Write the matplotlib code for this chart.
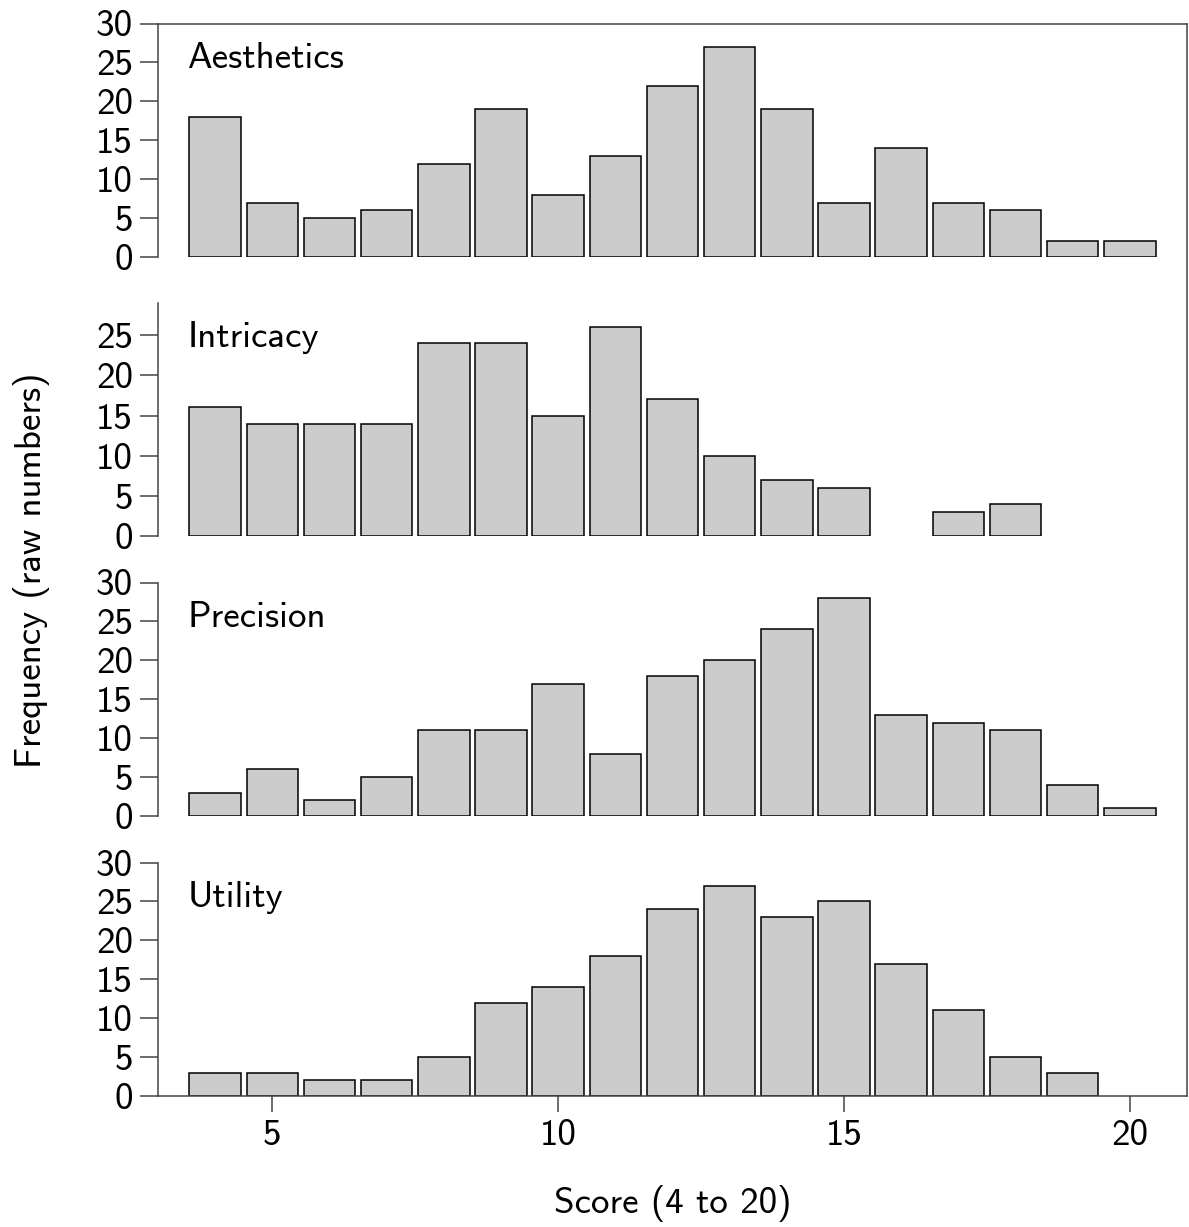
import matplotlib
matplotlib.use("Agg")
import matplotlib.pyplot as plt
from matplotlib.lines import Line2D
import numpy as np

scores = list(range(4, 21))
aesthetics = [18, 7, 5, 6, 12, 19, 8, 13, 22, 27, 19, 7, 14, 7, 6, 2, 2]
intricacy = [16, 14, 14, 14, 24, 24, 15, 26, 17, 10, 7, 6, 0, 3, 4, 0, 0]
precision = [3, 6, 2, 5, 11, 11, 17, 8, 18, 20, 24, 28, 13, 12, 11, 4, 1]
utility = [3, 3, 2, 2, 5, 12, 14, 18, 24, 27, 23, 25, 17, 11, 5, 3, 0]

panel_names = ["Aesthetics", "Intricacy", "Precision", "Utility"]
panel_data = [aesthetics, intricacy, precision, utility]
panel_ylim = [30, 29, 30, 30]
panel_yticks = [range(0, 31, 5), range(0, 26, 5), range(0, 31, 5), range(0, 31, 5)]
x_ticks = [5, 10, 15, 20]

plt.rcParams.update({
    "font.family": ["cmss10", "DejaVu Sans"],
    "font.size": 26.6,
    "axes.unicode_minus": False,
    "axes.linewidth": 1.1,
    "axes.edgecolor": "#444444",
})

W, H = 1189, 1227
fig = plt.figure(figsize=(W / 100, H / 100), dpi=100)

left = 158 / W
right = 1187 / W
width = right - left
ph = 233.5 / H
bottoms_px = [257, 536.3, 816, 1096]
line_col = "#444444"

for i, (name, vals) in enumerate(zip(panel_names, panel_data)):
    ax = fig.add_axes([left, 1 - bottoms_px[i] / H, width, ph])
    s = np.array(scores)
    v = np.array(vals)
    keep = v > 0
    ax.bar(s[keep], v[keep], width=0.9, color="#cccccc",
           edgecolor="black", linewidth=1.1)
    ax.set_xlim(3, 21)
    ax.set_ylim(0, panel_ylim[i])
    ax.set_yticks(list(panel_yticks[i]))
    ax.tick_params(axis="y", length=13, width=1.1, color=line_col, pad=5)
    ax.spines["right"].set_visible(False)
    if i != 0:
        ax.spines["top"].set_visible(False)
    if i != 3:
        ax.spines["bottom"].set_visible(False)
        ax.set_xticks([])
    else:
        ax.set_xticks(x_ticks)
        ax.tick_params(axis="x", length=11.5, width=1.1, color=line_col, pad=5)
    ax.text(0.029, 0.922, name, transform=ax.transAxes, ha="left", va="top")

# right border spanning all panels
fig.add_artist(Line2D([right, right], [1 - 1096 / H, 1 - 23.7 / H],
                      transform=fig.transFigure, color=line_col, linewidth=1.1))

fig.text((158 + 1187) / 2 / W, 1 - 1203 / H, "Score (4 to 20)",
         ha="center", va="center")
fig.text(32 / W, 1 - 570 / H, "Frequency (raw numbers)",
         ha="center", va="center", rotation=90)

fig.savefig("out.png", dpi=100)
